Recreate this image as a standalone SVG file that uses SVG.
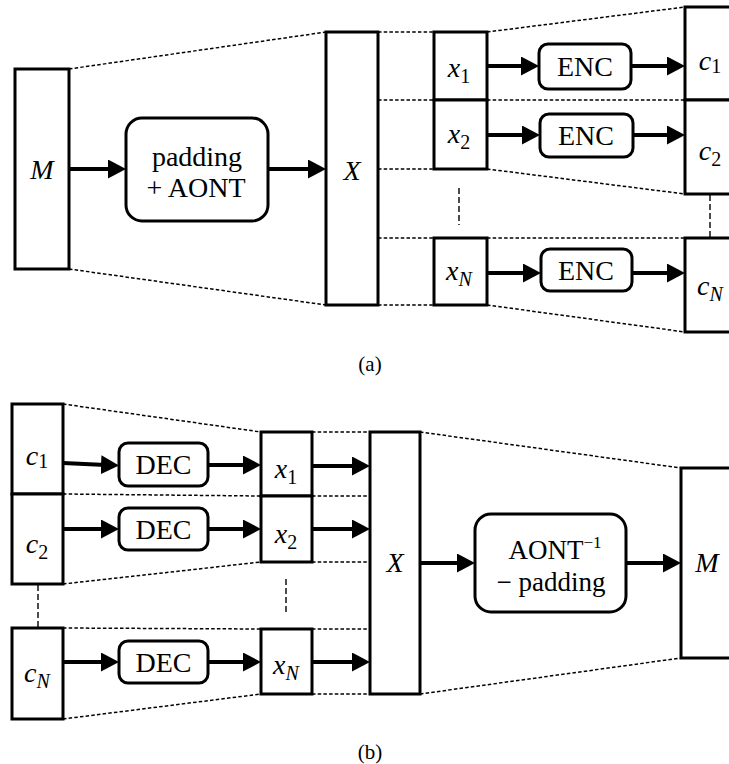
<svg xmlns="http://www.w3.org/2000/svg" width="729" height="764" viewBox="0 0 729 764" font-family="'Liberation Serif', 'Times New Roman', 'DejaVu Serif', serif">
<defs>
<style>
.box{fill:#fff;stroke:#000;stroke-width:3}
.rbox{fill:#fff;stroke:#000;stroke-width:3}
.arr{stroke:#000;stroke-width:4;fill:none;marker-end:url(#ah)}
.dash{stroke:#000;stroke-width:1.5;stroke-dasharray:3.5 2.2;fill:none}
.vdash{stroke:#000;stroke-width:1.4;stroke-dasharray:6 3;fill:none}
text{font-size:28px;fill:#000;text-anchor:middle}
.it{font-style:italic}
.sub{font-size:20px;font-style:normal}
.subi{font-size:20px;font-style:italic}
.cap{font-size:21px}
</style>
<marker id="ah" markerUnits="userSpaceOnUse" markerWidth="19" markerHeight="20" refX="5" refY="9.5" orient="auto">
<path d="M0,0 L18,9.5 L0,19 Z" fill="#000"/>
</marker>
</defs>

<g id="connectors">
<line class="dash" x1="69" y1="69" x2="326" y2="32"/>
<line class="dash" x1="69" y1="269" x2="326" y2="305"/>
<line class="dash" x1="378" y1="32" x2="434" y2="32"/>
<line class="dash" x1="378" y1="100" x2="434" y2="100"/>
<line class="dash" x1="378" y1="169" x2="434" y2="169"/>
<line class="dash" x1="378" y1="238" x2="434" y2="238"/>
<line class="dash" x1="378" y1="305" x2="434" y2="305"/>
<line class="dash" x1="487" y1="32" x2="685" y2="7"/>
<line class="dash" x1="487" y1="100" x2="685" y2="100"/>
<line class="dash" x1="487" y1="169" x2="685" y2="194"/>
<line class="dash" x1="487" y1="238" x2="685" y2="238"/>
<line class="dash" x1="487" y1="305" x2="685" y2="332"/>
<line class="vdash" x1="459" y1="188" x2="459" y2="225"/>
<line class="vdash" x1="710" y1="195" x2="710" y2="237"/>
<line class="arr" x1="69" y1="169" x2="113" y2="169"/>
<line class="arr" x1="268" y1="169" x2="313" y2="169"/>
<line class="arr" x1="487" y1="66" x2="526" y2="66"/>
<line class="arr" x1="631" y1="66" x2="672" y2="66"/>
<line class="arr" x1="487" y1="135" x2="527" y2="135"/>
<line class="arr" x1="633" y1="135" x2="672" y2="135"/>
<line class="arr" x1="487" y1="273" x2="528" y2="273"/>
<line class="arr" x1="632" y1="273" x2="672" y2="273"/>
<line class="dash" x1="63" y1="404" x2="261" y2="432"/>
<line class="dash" x1="63" y1="494" x2="261" y2="496"/>
<line class="dash" x1="63" y1="584" x2="261" y2="562"/>
<line class="dash" x1="63" y1="628" x2="261" y2="629"/>
<line class="dash" x1="63" y1="719" x2="261" y2="694"/>
<line class="dash" x1="312" y1="432" x2="370" y2="432"/>
<line class="dash" x1="312" y1="496" x2="370" y2="496"/>
<line class="dash" x1="312" y1="562" x2="370" y2="562"/>
<line class="dash" x1="312" y1="629" x2="370" y2="629"/>
<line class="dash" x1="312" y1="694" x2="370" y2="694"/>
<line class="dash" x1="420" y1="432" x2="681" y2="468"/>
<line class="dash" x1="420" y1="694" x2="681" y2="658"/>
<line class="vdash" x1="38" y1="585" x2="38" y2="627"/>
<line class="vdash" x1="286" y1="579" x2="286" y2="613"/>
<line class="arr" x1="63" y1="463" x2="106" y2="465"/>
<line class="arr" x1="63" y1="529" x2="106" y2="529"/>
<line class="arr" x1="63" y1="662" x2="106" y2="662"/>
<line class="arr" x1="208" y1="465" x2="248" y2="465"/>
<line class="arr" x1="208" y1="529" x2="248" y2="529"/>
<line class="arr" x1="208" y1="662" x2="248" y2="662"/>
<line class="arr" x1="312" y1="466" x2="357" y2="466"/>
<line class="arr" x1="312" y1="529" x2="357" y2="529"/>
<line class="arr" x1="312" y1="662" x2="357" y2="662"/>
<line class="arr" x1="420" y1="563" x2="462" y2="563"/>
<line class="arr" x1="626" y1="563" x2="668" y2="563"/>
</g>

<g id="a-M"><rect class="box" x="15" y="69" width="54" height="200"/><text class="it" x="42" y="179">M</text></g>
<g id="a-pad"><rect class="rbox" x="126" y="118" width="142" height="103" rx="16"/><text x="197" y="166">padding</text><text x="196" y="197">+ AONT</text></g>
<g id="a-X"><rect class="box" x="326" y="32" width="52" height="273"/><text class="it" x="352" y="180">X</text></g>
<g id="a-x1"><rect class="box" x="434" y="32" width="53" height="68"/><text class="it" x="459" y="77">x<tspan class="sub" dy="6">1</tspan></text></g>
<g id="a-x2"><rect class="box" x="434" y="100" width="53" height="69"/><text class="it" x="459" y="143">x<tspan class="sub" dy="6">2</tspan></text></g>
<g id="a-xN"><rect class="box" x="434" y="238" width="53" height="67"/><text class="it" x="459" y="280">x<tspan class="subi" dy="6">N</tspan></text></g>
<g id="a-enc1"><rect class="rbox" x="539" y="44" width="92" height="45" rx="9"/><text x="585" y="76">ENC</text></g>
<g id="a-enc2"><rect class="rbox" x="540" y="114" width="93" height="43" rx="9"/><text x="586" y="145">ENC</text></g>
<g id="a-encN"><rect class="rbox" x="541" y="249" width="91" height="42" rx="9"/><text x="586" y="280">ENC</text></g>
<g id="a-c1"><rect class="box" x="685" y="7" width="60" height="93"/><text class="it" x="710" y="70">c<tspan class="sub" dy="3">1</tspan></text></g>
<g id="a-c2"><rect class="box" x="685" y="100" width="60" height="94"/><text class="it" x="710" y="160">c<tspan class="sub" dy="6">2</tspan></text></g>
<g id="a-cN"><rect class="box" x="685" y="238" width="60" height="94"/><text class="it" x="710" y="295">c<tspan class="subi" dy="6">N</tspan></text></g>
<text class="cap" x="370" y="371">(a)</text>

<g id="b-c1"><rect class="box" x="12" y="404" width="51" height="90"/><text class="it" x="37" y="465">c<tspan class="sub" dy="3">1</tspan></text></g>
<g id="b-c2"><rect class="box" x="12" y="494" width="51" height="90"/><text class="it" x="37" y="553">c<tspan class="sub" dy="6">2</tspan></text></g>
<g id="b-cN"><rect class="box" x="12" y="628" width="51" height="91"/><text class="it" x="37" y="682">c<tspan class="subi" dy="6">N</tspan></text></g>
<g id="b-dec1"><rect class="rbox" x="119" y="443" width="89" height="43" rx="9"/><text x="163.5" y="474">DEC</text></g>
<g id="b-dec2"><rect class="rbox" x="119" y="508" width="89" height="42" rx="9"/><text x="163.5" y="539">DEC</text></g>
<g id="b-decN"><rect class="rbox" x="119" y="641" width="89" height="42" rx="9"/><text x="163.5" y="672">DEC</text></g>
<g id="b-x1"><rect class="box" x="261" y="432" width="51" height="64"/><text class="it" x="286" y="478">x<tspan class="sub" dy="6">1</tspan></text></g>
<g id="b-x2"><rect class="box" x="261" y="496" width="51" height="66"/><text class="it" x="286" y="543">x<tspan class="sub" dy="6">2</tspan></text></g>
<g id="b-xN"><rect class="box" x="261" y="629" width="51" height="65"/><text class="it" x="286" y="674">x<tspan class="subi" dy="6">N</tspan></text></g>
<g id="b-X"><rect class="box" x="370" y="432" width="50" height="262"/><text class="it" x="395" y="572">X</text></g>
<g id="b-aont"><rect class="rbox" x="475" y="514" width="151" height="98" rx="16"/><text x="555" y="559" style="font-size:27px">AONT<tspan style="font-size:17px" dy="-11">−1</tspan></text><text x="551" y="591" style="font-size:27px">− padding</text></g>
<g id="b-M"><rect class="box" x="681" y="468" width="60" height="190"/><text class="it" x="707" y="572">M</text></g>
<text class="cap" x="370" y="759">(b)</text>
</svg>
